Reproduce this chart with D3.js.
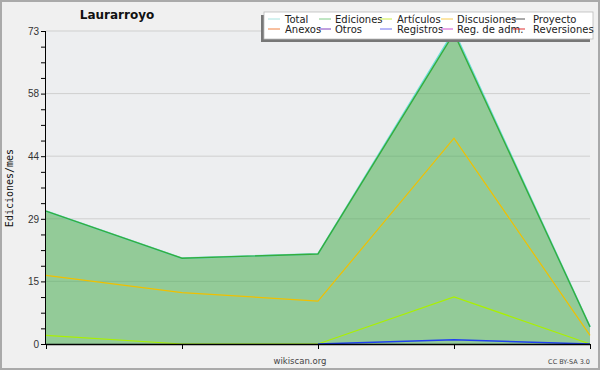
<!DOCTYPE html>
<html>
<head>
<meta charset="utf-8">
<script src="https://cdn.jsdelivr.net/npm/d3@7"></script>
<style>
  body { margin: 0; background: #fff; }
  svg { display: block; font-family: "DejaVu Sans", sans-serif; }
  .tick text { fill: #333; font-size: 10px; }
</style>
</head>
<body>
<svg width="600" height="370"></svg>
<script>
// months on the x axis (no labels shown in the original)
const months = ['m1', 'm2', 'm3', 'm4', 'm5'];

// edits per month
const total       = [31, 20, 21, 73, 4];
const ediciones   = [31, 20, 21, 72.5, 4];
const articulos   = [2, 0, 0, 11, 0];
const discusiones = [16, 12, 10, 48, 2];
const registros   = [null, null, 0, 1, 0];

const yMax = 73;
const yTickLabels = ['0', '15', '29', '44', '58', '73'];

const legendItems = [
  ['Total', '#a8e4e0'], ['Ediciones', '#80cc88'], ['Artículos', '#ccee44'], ['Discusiones', '#f8cc50'], ['Proyecto', '#555555'],
  ['Anexos', '#f08040'], ['Otros', '#8040c0'], ['Registros', '#7070f0'], ['Reg. de adm.', '#d050d0'], ['Reversiones', '#e03030']
];

const svg = d3.select('svg');

// background + frame
svg.append('rect').attr('x', 0).attr('y', 0).attr('width', 600).attr('height', 370)
  .attr('fill', '#f0f0f0');
svg.append('rect').attr('x', 1).attr('y', 1).attr('width', 598).attr('height', 368)
  .attr('fill', 'none').attr('stroke', '#aaa').attr('stroke-width', 2);

const pLeft = 46, pRight = 590, pTop = 31, pBottom = 344;

const x = d3.scalePoint().domain(months).range([pLeft, pRight]);
const y = d3.scaleLinear().domain([0, yMax]).range([pBottom, pTop]);

// plot background
svg.append('rect').attr('x', pLeft).attr('y', pTop).attr('width', pRight - pLeft).attr('height', pBottom - pTop)
  .attr('fill', '#edeef0');

// horizontal grid at labelled ticks
const majorVals = yTickLabels.map((d, i) => i * yMax / (yTickLabels.length - 1));
svg.append('g').selectAll('line').data(majorVals.slice(1)).enter().append('line')
  .attr('x1', pLeft).attr('x2', pRight)
  .attr('y1', d => y(d)).attr('y2', d => y(d))
  .attr('stroke', '#cfcfcf').attr('stroke-width', 1);

// edits area
const area = d3.area()
  .x((d, i) => x(months[i]))
  .y0(y(0))
  .y1(d => y(d));
svg.append('clipPath').attr('id', 'areaClip')
  .append('path').datum(ediciones).attr('d', area);
svg.append('path').datum(ediciones).attr('d', area).attr('fill', '#93cb98');

// grid shows faintly through the fill
svg.append('g').attr('clip-path', 'url(#areaClip)')
  .selectAll('line').data(majorVals.slice(1)).enter().append('line')
  .attr('x1', pLeft).attr('x2', pRight)
  .attr('y1', d => y(d)).attr('y2', d => y(d))
  .attr('stroke', '#86bd8c').attr('stroke-width', 1);

const line = d3.line()
  .defined(d => d !== null)
  .x((d, i) => x(months[i]))
  .y(d => y(d));

svg.append('path').datum(total).attr('d', line)
  .attr('fill', 'none').attr('stroke', '#6adcd6').attr('stroke-width', 1.8);
svg.append('path').datum(ediciones).attr('d', line)
  .attr('fill', 'none').attr('stroke', '#36ad3c').attr('stroke-width', 1.4);
svg.append('path').datum(discusiones).attr('d', line)
  .attr('fill', 'none').attr('stroke', '#f0c000').attr('stroke-width', 1.2);
svg.append('path').datum(articulos).attr('d', line)
  .attr('fill', 'none').attr('stroke', '#aaf000').attr('stroke-width', 1.2);
svg.append('path').datum(registros).attr('d', line)
  .attr('fill', 'none').attr('stroke', '#2040f0').attr('stroke-width', 1.5);

// y axis: minor ticks every quarter of a labelled step
const minorVals = d3.range(0, 21).map(i => i * yMax / 20);
const yAxis = d3.axisLeft(y).tickValues(minorVals).tickSize(5).tickPadding(2)
  .tickFormat((d, i) => i % 4 === 0 ? yTickLabels[i / 4] : '');
const gy = svg.append('g').attr('transform', `translate(${pLeft},0)`).call(yAxis);
gy.select('.domain').attr('stroke', '#000').attr('d', `M-0.5,${pTop}V${pBottom}`);
gy.selectAll('.tick line').attr('stroke', '#000');

// x axis
const xAxis = d3.axisBottom(x).tickSize(5).tickFormat('');
const gx = svg.append('g').attr('transform', `translate(0,${pBottom})`).call(xAxis);
gx.select('.domain').attr('stroke', '#000').attr('stroke-width', 1.5).attr('d', `M${pLeft},0.5H${pRight}`);
gx.selectAll('.tick line').attr('stroke', '#000');

// title
svg.append('text').attr('x', 117).attr('y', 19).attr('text-anchor', 'middle')
  .attr('font-size', 12).attr('font-weight', 'bold').attr('fill', '#111').text('Laurarroyo');

// y label
svg.append('text').attr('transform', 'translate(13,188) rotate(-90)').attr('text-anchor', 'middle')
  .attr('font-family', 'DejaVu Sans Mono, monospace').attr('font-size', 10).attr('fill', '#111')
  .text('Ediciones/mes');

// footer
svg.append('text').attr('x', 300).attr('y', 364).attr('text-anchor', 'middle')
  .attr('font-size', 8.5).attr('fill', '#444').text('wikiscan.org');
svg.append('text').attr('x', 590).attr('y', 364).attr('text-anchor', 'end')
  .attr('font-size', 6.5).attr('fill', '#444').text('CC BY-SA 3.0');

// legend with shadow
const lg = svg.append('g');
lg.append('rect').attr('x', 261).attr('y', 15).attr('width', 329).attr('height', 27).attr('fill', '#777');
lg.append('rect').attr('x', 264).attr('y', 12).attr('width', 329).attr('height', 27)
  .attr('fill', '#fff').attr('stroke', '#bbb').attr('stroke-width', 0.8);
const colX = [268, 319, 380, 441, 513];
const textX = [285, 335, 397, 457, 533];
const item = lg.selectAll('g.item').data(legendItems).enter().append('g').attr('class', 'item')
  .attr('transform', (d, i) => `translate(0,${i < 5 ? 19 : 29})`);
item.append('line')
  .attr('x1', (d, i) => colX[i % 5]).attr('x2', (d, i) => colX[i % 5] + 12)
  .attr('stroke', d => d[1]).attr('stroke-width', 1);
item.append('text')
  .attr('x', (d, i) => textX[i % 5]).attr('y', 4)
  .attr('font-size', 10).attr('fill', '#222').text(d => d[0]);
</script>
</body>
</html>
